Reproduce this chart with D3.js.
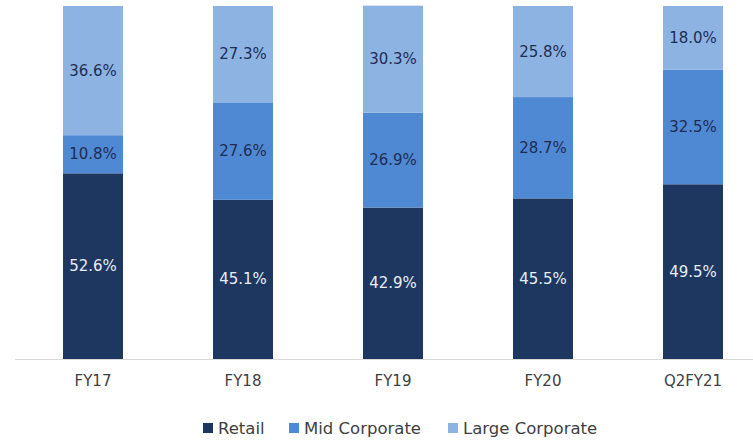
<!DOCTYPE html>
<html>
<head>
<meta charset="utf-8">
<script src="https://cdn.jsdelivr.net/npm/d3@7"></script>
<style>
  html, body { margin: 0; padding: 0; background: #ffffff; }
  svg { display: block; }
  text { font-family: "DejaVu Sans", sans-serif; }
</style>
</head>
<body>
<svg id="chart" width="753" height="440"></svg>
<script>
// Loan book mix by segment (% share)
const categories = ["FY17", "FY18", "FY19", "FY20", "Q2FY21"];
const seriesNames = ["Retail", "Mid Corporate", "Large Corporate"];
const retail = [52.6, 45.1, 42.9, 45.5, 49.5];
const midCorporate = [10.8, 27.6, 26.9, 28.7, 32.5];
const largeCorporate = [36.6, 27.3, 30.3, 25.8, 18.0];
const yDomain = [0, 100];

const colors = ["#1d3761", "#4f88d3", "#8db3e3"];
const labelColors = ["#e9edf4", "#1f2d55", "#1f2d55"];

const rows = categories.map((c, i) => ({
  cat: c,
  "Retail": retail[i],
  "Mid Corporate": midCorporate[i],
  "Large Corporate": largeCorporate[i]
}));

const svg = d3.select("#chart");

const x = d3.scaleBand().domain(categories).range([18, 768]).paddingInner(0.6).paddingOuter(0.3);
const y = d3.scaleLinear().domain(yDomain).range([359, 6]);

const stacked = d3.stack().keys(seriesNames)(rows);

const groups = svg.append("g").selectAll("g")
  .data(stacked)
  .join("g")
  .attr("fill", (d, i) => colors[i]);

groups.selectAll("rect")
  .data(d => d)
  .join("rect")
  .attr("x", d => x(d.data.cat))
  .attr("width", x.bandwidth())
  .attr("y", d => y(d[1]))
  .attr("height", d => y(d[0]) - y(d[1]));

// value labels centred in each segment
svg.append("g").selectAll("g")
  .data(stacked)
  .join("g")
  .attr("fill", (d, i) => labelColors[i])
  .selectAll("text")
  .data(d => d)
  .join("text")
  .attr("x", d => x(d.data.cat) + x.bandwidth() / 2)
  .attr("y", d => (y(d[0]) + y(d[1])) / 2)
  .attr("text-anchor", "middle")
  .attr("dominant-baseline", "central")
  .attr("font-size", 15)
  .text(d => (d[1] - d[0]).toFixed(1) + "%");

// category axis
const xAxis = svg.append("g")
  .attr("transform", "translate(0,359)")
  .call(d3.axisBottom(x).tickSize(0).tickPadding(16));
xAxis.select(".domain").remove();
xAxis.append("line")
  .attr("x1", 15).attr("x2", 753)
  .attr("y1", 0.5).attr("y2", 0.5)
  .attr("stroke", "#d9d9d9");
xAxis.selectAll(".tick text")
  .attr("fill", "#404040")
  .attr("font-size", 15)
  .attr("font-family", "DejaVu Sans, sans-serif");

// legend
const legendItems = [
  { name: seriesNames[0], x: 203 },
  { name: seriesNames[1], x: 289 },
  { name: seriesNames[2], x: 448 }
];
const legend = svg.append("g");
legendItems.forEach((item, i) => {
  legend.append("rect")
    .attr("x", item.x).attr("y", 423)
    .attr("width", 10).attr("height", 10)
    .attr("fill", colors[i]);
  legend.append("text")
    .attr("x", item.x + 15).attr("y", 428)
    .attr("dominant-baseline", "central")
    .attr("font-size", 16.5)
    .attr("fill", "#404040")
    .text(item.name);
});
</script>
</body>
</html>
